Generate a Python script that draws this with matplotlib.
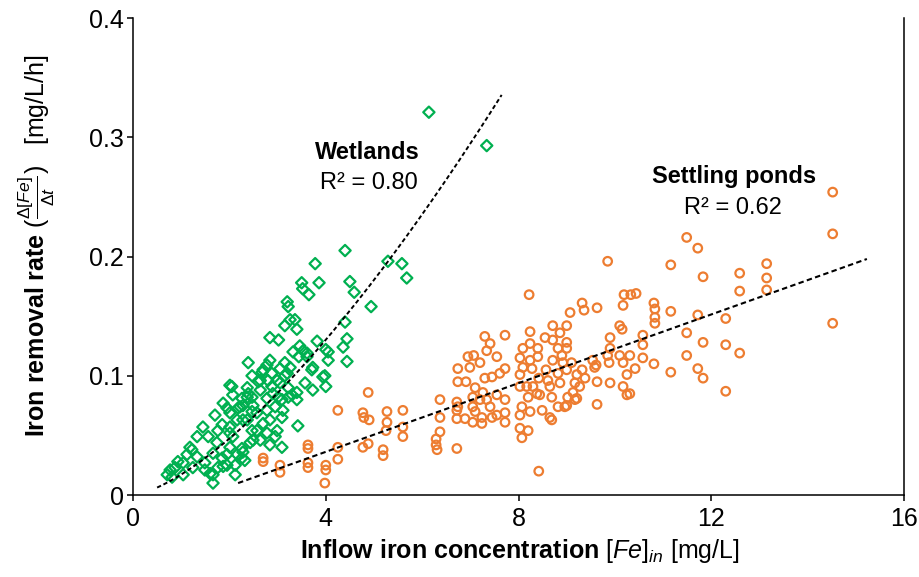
import matplotlib
matplotlib.use("Agg")
import matplotlib.pyplot as plt
import numpy as np

plt.rcParams['font.family'] = ['Liberation Sans', 'DejaVu Sans']
plt.rcParams['mathtext.fontset'] = 'custom'
plt.rcParams['mathtext.rm'] = 'Liberation Sans'
plt.rcParams['mathtext.bf'] = 'Liberation Sans:bold'
plt.rcParams['mathtext.it'] = 'Liberation Sans:italic'

# Wetlands: inflow Fe [mg/L] vs removal rate [mg/L/h]
wet_x = [6.14, 7.34, 4.40, 5.29, 5.58, 5.68, 3.78, 3.86, 3.50, 3.52, 3.65, 4.50, 4.59, 4.94,
         3.20, 3.22, 3.26, 3.36, 3.15, 3.40, 4.40, 2.84, 3.02, 3.82, 4.44,
         3.46, 3.32, 3.53, 3.44, 3.61, 4.00, 4.05, 2.39, 2.84, 2.78, 3.15, 3.26, 2.47, 2.68,
         2.88, 3.05, 3.15, 3.73, 3.94, 3.57, 3.73, 4.00, 2.05, 2.37, 2.60, 2.80, 2.64, 2.88,
         3.05, 3.22, 3.40, 1.87, 2.26, 2.47, 2.78, 3.01, 3.22, 2.28, 2.49,
         4.36, 4.44, 4.05, 3.98, 3.71, 3.40, 3.42, 3.09, 2.95, 3.09, 2.84, 2.70, 2.49, 2.32,
         2.12, 1.95, 2.28, 2.57, 3.09, 3.30, 2.90,
         1.70, 1.45, 1.33, 1.18, 1.12, 0.93, 0.77, 0.71, 0.81, 1.04, 1.24, 1.49, 1.60, 1.66,
         1.76, 1.85, 1.74, 1.56, 1.76, 2.01, 2.16, 2.01, 2.22, 2.37, 2.64, 2.70, 2.99, 3.20,
         3.61, 2.07, 1.95, 2.37, 2.57, 2.78, 2.95, 3.11, 2.84, 2.99, 2.78, 2.64, 2.07, 2.01,
         2.16, 1.66, 1.95, 1.33, 1.04,
         2.01, 1.85, 2.01, 1.22, 0.87, 1.49, 1.66, 1.87, 2.12, 2.26, 2.43, 2.26, 2.47, 2.28,
         2.18, 2.47, 2.39]
wet_y = [0.321, 0.293, 0.205, 0.196, 0.194, 0.182, 0.194, 0.178, 0.178, 0.173, 0.168, 0.179, 0.170, 0.158,
         0.162, 0.158, 0.147, 0.147, 0.142, 0.139, 0.145, 0.132, 0.130, 0.129, 0.131,
         0.125, 0.120, 0.121, 0.116, 0.116, 0.122, 0.113, 0.111, 0.113, 0.109, 0.111, 0.107, 0.100, 0.103,
         0.102, 0.106, 0.100, 0.107, 0.099, 0.094, 0.088, 0.091, 0.091, 0.090, 0.095, 0.096, 0.088, 0.091,
         0.094, 0.090, 0.086, 0.077, 0.081, 0.082, 0.081, 0.082, 0.082, 0.075, 0.075,
         0.124, 0.112, 0.120, 0.100, 0.105, 0.080, 0.058, 0.065, 0.049, 0.040, 0.042, 0.060, 0.046, 0.029,
         0.017, 0.034, 0.036, 0.054, 0.080, 0.084, 0.085,
         0.067, 0.057, 0.049, 0.040, 0.034, 0.028, 0.021, 0.017, 0.015, 0.017, 0.023, 0.027, 0.018, 0.010,
         0.023, 0.031, 0.044, 0.049, 0.054, 0.057, 0.063, 0.069, 0.074, 0.082, 0.096, 0.105, 0.096, 0.102,
         0.119, 0.084, 0.073, 0.063, 0.069, 0.071, 0.074, 0.071, 0.063, 0.054, 0.052, 0.046, 0.049, 0.040,
         0.034, 0.035, 0.025, 0.032, 0.027,
         0.092, 0.059, 0.052, 0.038, 0.023, 0.021, 0.017, 0.024, 0.025, 0.031, 0.044, 0.039, 0.054, 0.063,
         0.073, 0.070, 0.085]

# Settling ponds
pond_x = [2.70, 2.70, 3.05, 3.05, 3.63, 3.63, 3.63, 3.63, 4.00, 4.00, 3.98, 4.25, 4.25, 4.25,
          4.88, 4.77, 4.79, 4.90, 4.77, 4.88, 5.19, 5.19, 5.27, 5.27, 5.25, 5.60, 5.60, 5.60,
          6.37, 6.37, 6.37, 6.29, 6.29, 6.31, 6.72, 6.72, 6.72, 6.72, 6.74, 6.74, 6.95, 6.91,
          7.07, 6.99, 7.20, 7.30, 7.41, 7.34, 7.55, 7.72, 7.30, 7.45, 7.61, 7.72, 7.10, 7.26,
          7.05, 7.20, 7.34, 7.41, 7.55, 7.72, 7.72, 7.55, 7.72, 7.24, 7.05, 6.89, 6.74, 7.05,
          7.10, 7.24, 7.45,
          8.22, 8.24, 8.55, 8.71, 9.00, 8.86, 8.71, 8.82, 9.00, 9.00, 8.90, 8.24, 8.09, 8.03,
          8.09, 8.24, 8.40, 8.40, 8.28, 8.03, 8.17, 8.30, 8.03, 8.20, 8.38, 8.07, 8.03, 8.24,
          8.03, 8.20, 8.07, 8.49, 8.69, 8.42, 8.65, 8.44, 8.69, 8.65, 8.86, 8.82, 9.00, 9.10,
          8.92, 8.71, 8.57, 8.42, 8.61, 8.96, 8.82,
          9.32, 9.21, 9.38, 9.27, 9.17, 9.13, 9.02, 9.21, 9.17, 9.00, 9.54, 9.58, 9.63, 9.90,
          9.63, 9.61, 9.32, 9.36, 9.63, 9.07,
          9.85, 9.90, 9.90, 9.85, 9.88, 10.10, 10.15, 10.10, 10.31, 10.17, 10.25, 10.17, 10.31,
          10.25, 10.42, 10.19, 10.33, 10.44, 10.17, 10.58, 10.58, 10.58, 10.81, 10.83, 10.83,
          10.83, 10.81,
          11.16, 11.16, 11.16, 11.49, 11.72, 11.49, 11.49, 11.72, 11.72, 11.83, 11.83, 11.83,
          12.30, 12.30, 12.30, 12.59, 12.59, 12.59, 13.15, 13.15, 13.15, 14.52, 14.52, 14.52]
pond_y = [0.031, 0.028, 0.025, 0.019, 0.042, 0.039, 0.027, 0.023, 0.025, 0.021, 0.010, 0.071, 0.040, 0.030,
          0.086, 0.069, 0.065, 0.063, 0.040, 0.043, 0.038, 0.033, 0.070, 0.061, 0.054, 0.071, 0.057, 0.049,
          0.080, 0.065, 0.053, 0.047, 0.042, 0.038, 0.078, 0.071, 0.064, 0.039, 0.106, 0.095, 0.116, 0.095,
          0.117, 0.107, 0.111, 0.133, 0.127, 0.121, 0.116, 0.134, 0.098, 0.099, 0.102, 0.106, 0.090, 0.086,
          0.082, 0.080, 0.080, 0.074, 0.084, 0.080, 0.069, 0.067, 0.061, 0.065, 0.061, 0.064, 0.074, 0.074,
          0.070, 0.060, 0.065,
          0.168, 0.137, 0.132, 0.142, 0.142, 0.136, 0.130, 0.123, 0.128, 0.123, 0.117, 0.127, 0.123, 0.115,
          0.107, 0.113, 0.123, 0.116, 0.106, 0.101, 0.091, 0.091, 0.091, 0.082, 0.085, 0.074, 0.067, 0.070,
          0.056, 0.054, 0.048, 0.071, 0.063, 0.020, 0.065, 0.084, 0.082, 0.091, 0.094, 0.102, 0.105, 0.111,
          0.111, 0.113, 0.105, 0.098, 0.096, 0.074, 0.074,
          0.105, 0.101, 0.098, 0.091, 0.094, 0.086, 0.082, 0.081, 0.080, 0.075, 0.113, 0.107, 0.095, 0.094,
          0.076, 0.109, 0.161, 0.155, 0.157, 0.153,
          0.196, 0.132, 0.123, 0.117, 0.111, 0.142, 0.139, 0.117, 0.117, 0.111, 0.101, 0.091, 0.085,
          0.084, 0.106, 0.168, 0.168, 0.169, 0.159, 0.134, 0.126, 0.115, 0.161, 0.156, 0.149,
          0.144, 0.110,
          0.193, 0.154, 0.103, 0.216, 0.207, 0.136, 0.117, 0.151, 0.106, 0.183, 0.128, 0.098,
          0.148, 0.126, 0.087, 0.186, 0.171, 0.119, 0.194, 0.182, 0.172, 0.254, 0.219, 0.144]

# trendlines: power fit for wetlands, linear fit for ponds
wet_fit_a, wet_fit_b = 0.0172, 1.46
wet_fit_range = (0.5, 7.65)
pond_fit_slope, pond_fit_icpt = 0.0144, -0.0214
pond_fit_range = (2.18, 15.23)
wet_r2 = 0.80
pond_r2 = 0.62

green = '#00B050'
orange = '#ED7D31'

fig = plt.figure(figsize=(9.2, 5.77), dpi=100)
ax = fig.add_axes([0.1446, 0.1421, 0.838, 0.8267])

ax.scatter(wet_x, wet_y, marker='D', s=33, facecolors='none',
           edgecolors=green, linewidths=1.6, zorder=2)
ax.scatter(pond_x, pond_y, marker='o', s=38, facecolors='none',
           edgecolors=orange, linewidths=1.6, zorder=2)

xw = np.linspace(*wet_fit_range, 200)
ax.plot(xw, wet_fit_a * xw ** wet_fit_b, color='black', lw=1.4,
        dashes=(2.2, 1.4), zorder=3)
xp = np.linspace(*pond_fit_range, 2)
ax.plot(xp, pond_fit_slope * xp + pond_fit_icpt, color='black', lw=1.5,
        dashes=(2.6, 1.6), zorder=3)

ax.text(4.87, 0.287, "Wetlands", ha='center', va='center',
        fontsize=17, fontweight='bold')
ax.text(4.90, 0.262, f"R² = {wet_r2:.2f}", ha='center', va='center', fontsize=17)
ax.text(12.47, 0.267, "Settling ponds", ha='center', va='center',
        fontsize=17, fontweight='bold')
ax.text(12.45, 0.241, f"R² = {pond_r2:.2f}", ha='center', va='center', fontsize=17)

ax.set_xlim(0, 16)
ax.set_ylim(0, 0.4)
ax.set_xticks([0, 4, 8, 12, 16])
ax.set_xticklabels(["0", "4", "8", "12", "16"])
ax.set_yticks([0, 0.1, 0.2, 0.3, 0.4])
ax.set_yticklabels(["0", "0.1", "0.2", "0.3", "0.4"])
ax.tick_params(axis='both', direction='out', length=4.5, width=1.1,
               labelsize=18, color='black')
ax.tick_params(axis='y', pad=2)
ax.tick_params(axis='x', pad=4)

ax.spines['top'].set_visible(False)
for side in ['left', 'bottom', 'right']:
    ax.spines[side].set_linewidth(1.1)
    ax.spines[side].set_color('black')

fig.text(0.565, 0.045,
         r"$\mathbf{Inflow\ iron\ concentration}\ [Fe]_{in}\ \mathrm{[mg/L]}$",
         ha='center', va='center', fontsize=18)
fig.text(0.040, 0.575,
         r"$\mathbf{Iron\ removal\ rate}\ (\frac{\Delta[Fe]}{\Delta t})\ \ \ \mathrm{[mg/L/h]}$",
         ha='center', va='center', rotation=90, rotation_mode='anchor', fontsize=18)

fig.savefig("out.png", dpi=100)
